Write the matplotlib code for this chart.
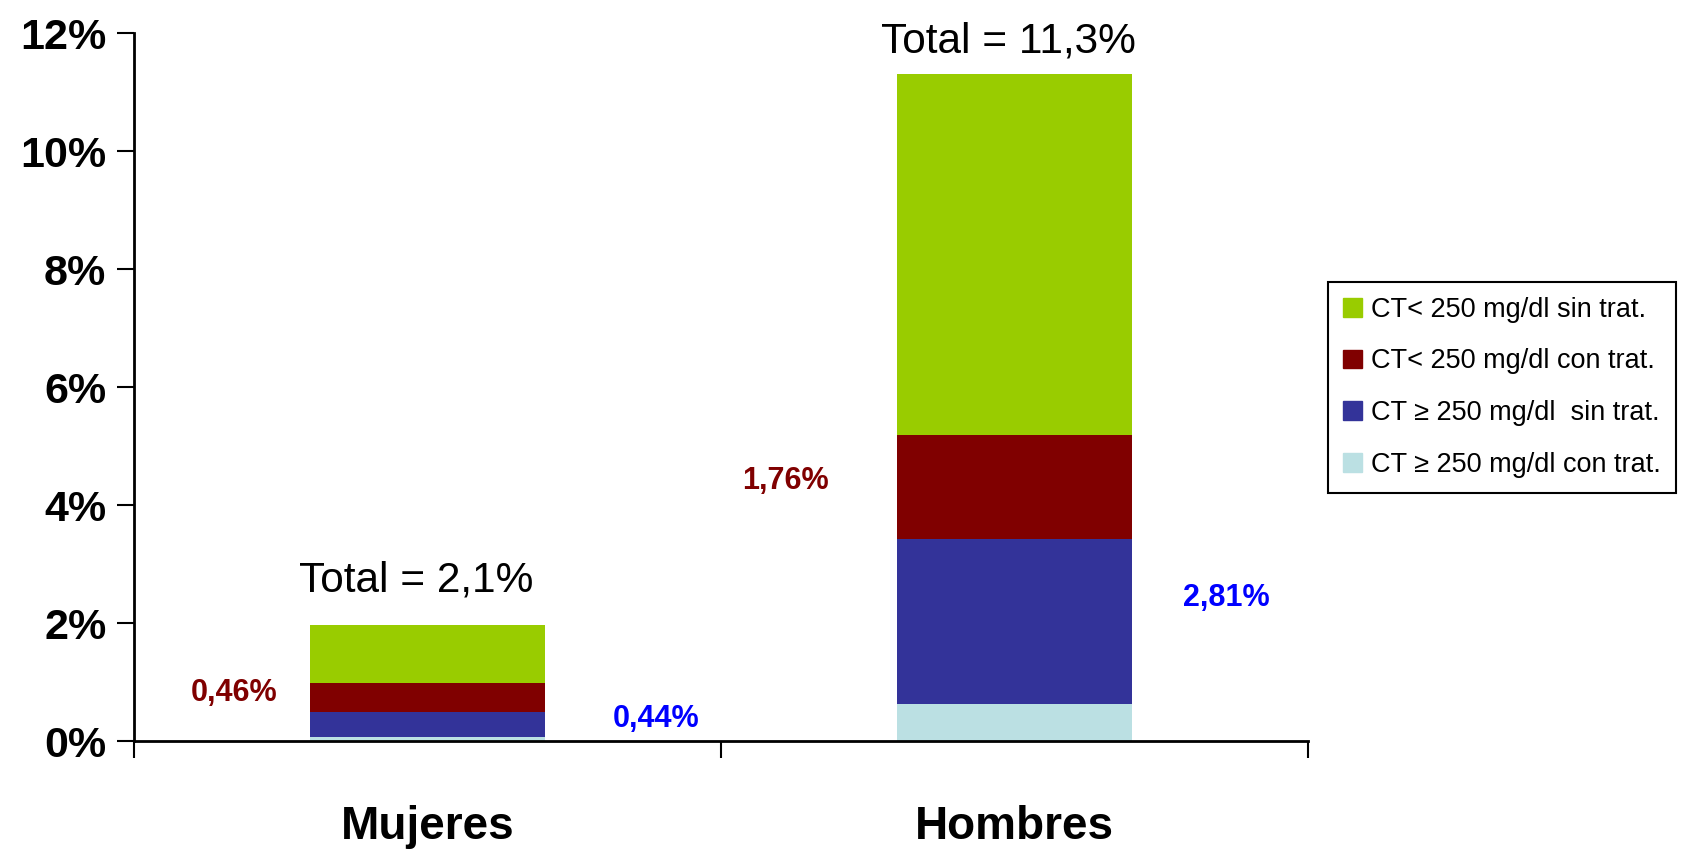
import matplotlib.pyplot as plt
from matplotlib.patches import Patch

# Categorías y valores (%)
grupos = ['Mujeres', 'Hombres']
ct_alto_con = [0.06, 0.62]   # CT >= 250 con trat.
ct_alto_sin = [0.44, 2.81]   # CT >= 250 sin trat.
ct_bajo_con = [0.49, 1.76]   # CT < 250 con trat.
ct_bajo_sin = [0.98, 6.11]   # CT < 250 sin trat.

totales = ['Total = 2,1%', 'Total = 11,3%']
etiq_rojo = ['0,46%', '1,76%']
etiq_azul = ['0,44%', '2,81%']

nombres = ['CT< 250 mg/dl sin trat.', 'CT< 250 mg/dl con trat.',
           'CT \u2265 250 mg/dl  sin trat.', 'CT \u2265 250 mg/dl con trat.']
colores = ['#99CC00', '#800000', '#333399', '#BBE0E3']

plt.rcParams['font.family'] = ['Liberation Sans', 'DejaVu Sans']

fig = plt.figure(figsize=(16.86, 8.49), dpi=100)
ax = fig.add_axes([0.0795, 0.1272, 0.6963, 0.8339])

x = list(range(len(grupos)))
ancho = 0.4
series = [ct_alto_con, ct_alto_sin, ct_bajo_con, ct_bajo_sin]
cols_stack = colores[::-1]
base = [0.0] * len(grupos)
for vals, c in zip(series, cols_stack):
    ax.bar(x, vals, ancho, bottom=base, color=c, zorder=2)
    base = [b + v for b, v in zip(base, vals)]

# Etiquetas de texto
pos_total = [(-0.02, 2.72), (0.99, 11.85)]
pos_rojo = [(-0.33, 0.81), (0.61, 4.41)]
pos_azul = [(0.39, 0.37), (1.36, 2.43)]
for i in range(len(grupos)):
    ax.text(*pos_total[i], totales[i], fontsize=30.5, ha='center', va='center')
    ax.text(*pos_rojo[i], etiq_rojo[i], fontsize=22, fontweight='bold',
            color='#800000', ha='center', va='center')
    ax.text(*pos_azul[i], etiq_azul[i], fontsize=22, fontweight='bold',
            color='#0000FF', ha='center', va='center')

ax.set_xlim(-0.5, 1.5)
ax.set_ylim(0, 12)
ax.set_yticks([0, 2, 4, 6, 8, 10, 12])
ax.set_yticklabels([f'{v}%' for v in [0, 2, 4, 6, 8, 10, 12]],
                   fontsize=31, fontweight='bold')
ax.tick_params(axis='y', length=12, width=1.5, pad=8)

ax.set_xticks(x)
ax.set_xticklabels(grupos, fontsize=33, fontweight='bold')
ax.tick_params(axis='x', which='major', length=0, pad=46)
ax.set_xticks([-0.5, 0.5, 1.5], minor=True)
ax.tick_params(axis='x', which='minor', length=12, width=1.5)

for s in ['top', 'right']:
    ax.spines[s].set_visible(False)
for s in ['left', 'bottom']:
    ax.spines[s].set_linewidth(2)

handles = [Patch(color=c) for c in colores]
leg = fig.legend(handles, nombres, loc='upper left',
                 bbox_to_anchor=(0.7877, 0.668), borderaxespad=0,
                 fancybox=False, edgecolor='black', framealpha=1,
                 prop={'size': 19.5},
                 handlelength=0.7, handleheight=0.7, handletextpad=0.35,
                 labelspacing=0.95, borderpad=0.55)
leg.get_frame().set_linewidth(1.5)

fig.savefig('out.png', dpi=100)
